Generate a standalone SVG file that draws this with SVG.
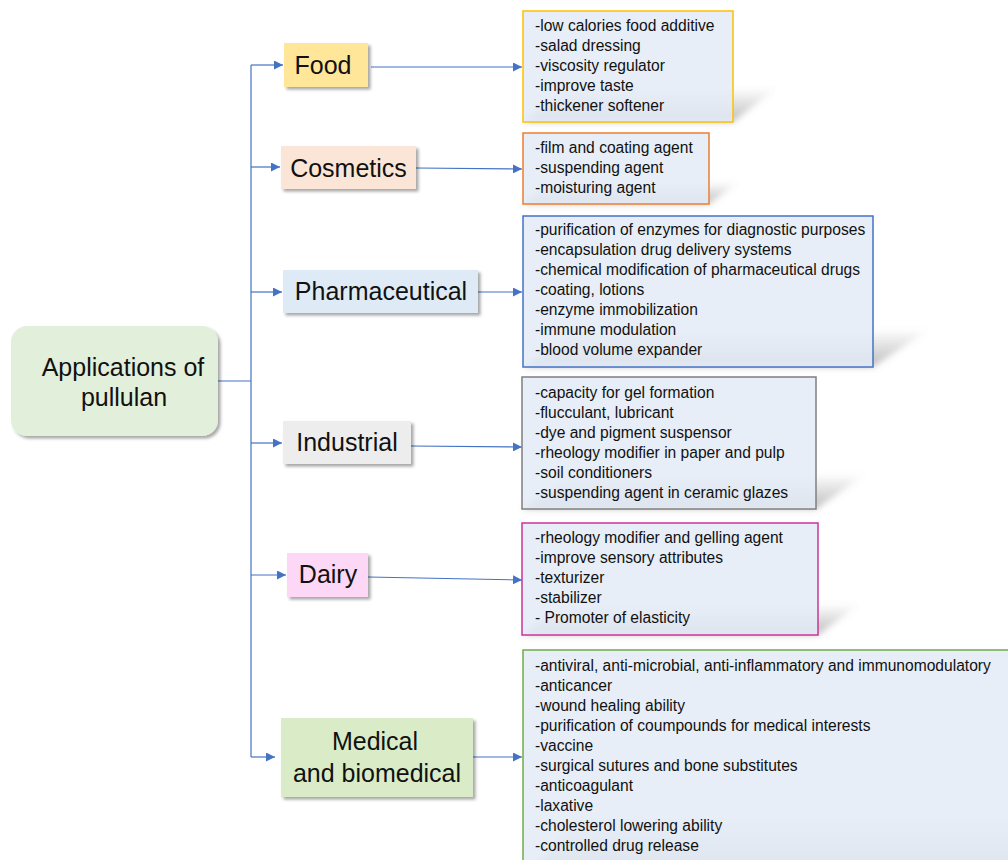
<svg xmlns="http://www.w3.org/2000/svg" width="1008" height="860" viewBox="0 0 1008 860">
<defs>
<style>
.cat{font-family:"Liberation Sans",Arial,sans-serif;font-size:25px;fill:#111;text-anchor:middle}
.det{font-family:"Liberation Sans",Arial,sans-serif;font-size:15.6px;fill:#111}
.conn{fill:none;stroke:#4472c4;stroke-width:1.2}
.dbox{fill:#e3ebf6;fill-opacity:0.85;stroke-width:1.5}
.sh{fill:url(#shg);filter:url(#blur)}
</style>
<marker id="arr" markerUnits="userSpaceOnUse" markerWidth="10" markerHeight="9" refX="9" refY="4.5" orient="auto">
<path d="M0,0 L9,4.5 L0,9 z" fill="#4472c4"/>
</marker>
<linearGradient id="shg" x1="0" y1="0" x2="0" y2="1">
<stop offset="0" stop-color="#7a7a7a" stop-opacity="0"/>
<stop offset="1" stop-color="#7a7a7a" stop-opacity="0.5"/>
</linearGradient>
<filter id="blur" x="-20%" y="-50%" width="140%" height="200%"><feGaussianBlur stdDeviation="3"/></filter>
<filter id="ds" x="-20%" y="-20%" width="150%" height="150%"><feDropShadow dx="2.5" dy="2.5" stdDeviation="1.8" flood-color="#000" flood-opacity="0.35"/></filter>
</defs>
<rect width="1008" height="860" fill="#fff"/>

<g id="connectors">
<path class="conn" d="M218,381 H251"/>
<path class="conn" d="M251,65 V757"/>
<path class="conn" marker-end="url(#arr)" d="M251,65 H283"/>
<path class="conn" marker-end="url(#arr)" d="M251,167 H280"/>
<path class="conn" marker-end="url(#arr)" d="M251,292 H282"/>
<path class="conn" marker-end="url(#arr)" d="M251,443 H282"/>
<path class="conn" marker-end="url(#arr)" d="M251,575 H286"/>
<path class="conn" marker-end="url(#arr)" d="M251,757 H275"/>
<path class="conn" marker-end="url(#arr)" d="M371,67 L522,67"/>
<path class="conn" marker-end="url(#arr)" d="M416,168 L522,169"/>
<path class="conn" marker-end="url(#arr)" d="M478,292 L522,292"/>
<path class="conn" marker-end="url(#arr)" d="M411,446 L522,447"/>
<path class="conn" marker-end="url(#arr)" d="M368,577 L522,580"/>
<path class="conn" marker-end="url(#arr)" d="M473,757 L522,757"/>
</g>

<g id="root">
<rect x="11" y="326" width="207" height="110" rx="16" fill="#e2efda" filter="url(#ds)"/>
<text class="cat" x="123" y="376">Applications of</text>
<text class="cat" x="124" y="406">pullulan</text>
</g>

<g id="food">
<rect x="284" y="43" width="84" height="44" fill="#ffe699" filter="url(#ds)"/>
<text class="cat" x="323" y="74">Food</text>
</g>
<g id="cosmetics">
<rect x="281" y="146" width="135" height="43" fill="#fbe5d6" filter="url(#ds)"/>
<text class="cat" x="348.5" y="177">Cosmetics</text>
</g>
<g id="pharmaceutical">
<rect x="283" y="270" width="195" height="43" fill="#deebf7" filter="url(#ds)"/>
<text class="cat" x="381" y="300">Pharmaceutical</text>
</g>
<g id="industrial">
<rect x="283" y="421" width="128" height="43" fill="#ededed" filter="url(#ds)"/>
<text class="cat" x="347" y="451">Industrial</text>
</g>
<g id="dairy">
<rect x="287" y="553" width="81" height="44" fill="#fdd7f6" filter="url(#ds)"/>
<text class="cat" x="328" y="583">Dairy</text>
</g>
<g id="medical">
<rect x="281" y="718" width="192" height="79" fill="#d9ecc7" filter="url(#ds)"/>
<text class="cat" x="375" y="750">Medical</text>
<text class="cat" x="377" y="782">and biomedical</text>
</g>

<g id="food-details">
<polygon class="sh" points="523,122 733,122 777,88 567,88"/>
<rect class="dbox" x="523" y="11" width="210" height="111" stroke="#ffc000"/>
<text class="det" x="535" y="31">-low calories food additive</text>
<text class="det" x="535" y="51">-salad dressing</text>
<text class="det" x="535" y="71">-viscosity regulator</text>
<text class="det" x="535" y="91">-improve taste</text>
<text class="det" x="535" y="111">-thickener softener</text>
</g>
<g id="cosmetics-details">
<polygon class="sh" points="523,204 709,204 739,182 553,182"/>
<rect class="dbox" x="523" y="133" width="186" height="71" stroke="#ed7d31"/>
<text class="det" x="535" y="153">-film and coating agent</text>
<text class="det" x="535" y="173">-suspending agent</text>
<text class="det" x="535" y="193">-moisturing agent</text>
</g>
<g id="pharmaceutical-details">
<polygon class="sh" points="523,367 873,367 930,329 580,329"/>
<rect class="dbox" x="523" y="216" width="350" height="151" stroke="#4472c4"/>
<text class="det" x="535" y="235">-purification of enzymes for diagnostic purposes</text>
<text class="det" x="535" y="255">-encapsulation drug delivery systems</text>
<text class="det" x="535" y="275">-chemical modification of pharmaceutical drugs</text>
<text class="det" x="535" y="295">-coating, lotions</text>
<text class="det" x="535" y="315">-enzyme immobilization</text>
<text class="det" x="535" y="335">-immune modulation</text>
<text class="det" x="535" y="355">-blood volume expander</text>
</g>
<g id="industrial-details">
<polygon class="sh" points="522,509 816,509 866,474 572,474"/>
<rect class="dbox" x="522" y="377" width="294" height="132" stroke="#7f7f7f"/>
<text class="det" x="535" y="398">-capacity for gel formation</text>
<text class="det" x="535" y="418">-flucculant, lubricant</text>
<text class="det" x="535" y="438">-dye and pigment suspensor</text>
<text class="det" x="535" y="458">-rheology modifier in paper and pulp</text>
<text class="det" x="535" y="478">-soil conditioners</text>
<text class="det" x="535" y="498">-suspending agent in ceramic glazes</text>
</g>
<g id="dairy-details">
<polygon class="sh" points="522,635 818,635 860,604 564,604"/>
<rect class="dbox" x="522" y="523" width="296" height="112" stroke="#cc3399"/>
<text class="det" x="535" y="543">-rheology modifier and gelling agent</text>
<text class="det" x="535" y="563">-improve sensory attributes</text>
<text class="det" x="535" y="583">-texturizer</text>
<text class="det" x="535" y="603">-stabilizer</text>
<text class="det" x="535" y="623">- Promoter of elasticity</text>
</g>
<g id="medical-details">
<polygon class="sh" points="523,880 1023,880 1083,812 583,812"/>
<rect class="dbox" x="523" y="650" width="500" height="230" stroke="#70ad47"/>
<text class="det" x="535" y="671">-antiviral, anti-microbial, anti-inflammatory and immunomodulatory</text>
<text class="det" x="535" y="691">-anticancer</text>
<text class="det" x="535" y="711">-wound healing ability</text>
<text class="det" x="535" y="731">-purification of coumpounds for medical interests</text>
<text class="det" x="535" y="751">-vaccine</text>
<text class="det" x="535" y="771">-surgical sutures and bone substitutes</text>
<text class="det" x="535" y="791">-anticoagulant</text>
<text class="det" x="535" y="811">-laxative</text>
<text class="det" x="535" y="831">-cholesterol lowering ability</text>
<text class="det" x="535" y="851">-controlled drug release</text>
</g>
</svg>
